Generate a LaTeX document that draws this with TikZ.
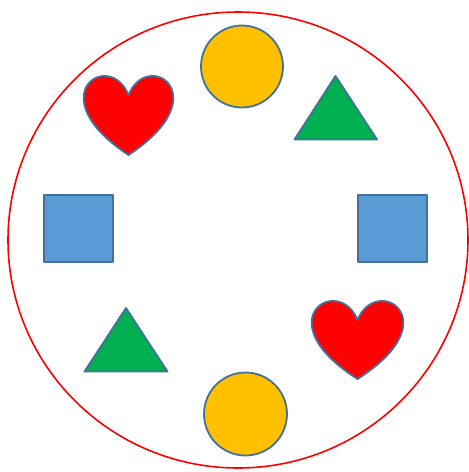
\documentclass[tikz,border=0pt]{standalone}
\definecolor{cyellow}{HTML}{FFC000}
\definecolor{cgreen}{HTML}{00B050}
\definecolor{cblue}{HTML}{5B9BD5}
\definecolor{coutline}{HTML}{41719C}
\definecolor{cred}{HTML}{FF0000}
\begin{document}
\begin{tikzpicture}[x=1pt,y=-1pt,
  figure/.style={draw=coutline,line width=1.8pt,line join=round},
  ring/.style={draw=cred,line width=1.6pt}]
\useasboundingbox (0,0) rectangle (469,472);
% big ring
\draw[ring] (238,240) ellipse [x radius=230, y radius=228];
% circles
\draw[figure,fill=cyellow] (242,66.5) circle [radius=41];
\draw[figure,fill=cyellow] (245.5,414) circle [radius=41.5];
% triangles
\draw[figure,fill=cgreen] (335.5,76) -- (377,139.5) -- (294.5,139.5) -- cycle;
\draw[figure,fill=cgreen] (126,308) -- (167.5,371.5) -- (84.5,371.5) -- cycle;
% squares
\draw[figure,fill=cblue] (44,195) rectangle (113,262);
\draw[figure,fill=cblue] (358,195) rectangle (427,262);
% hearts
\draw[figure,fill=cred] (128.5,95.25) .. controls (147.04,48) and (219.35,95.25) .. (128.5,155)
  .. controls (37.65,95.25) and (109.96,48) .. (128.5,95.25) -- cycle;
\draw[figure,fill=cred] (357.5,320) .. controls (376.46,273.33) and (450.4,320) .. (357.5,379)
  .. controls (264.6,320) and (338.54,273.33) .. (357.5,320) -- cycle;
\end{tikzpicture}
\end{document}
